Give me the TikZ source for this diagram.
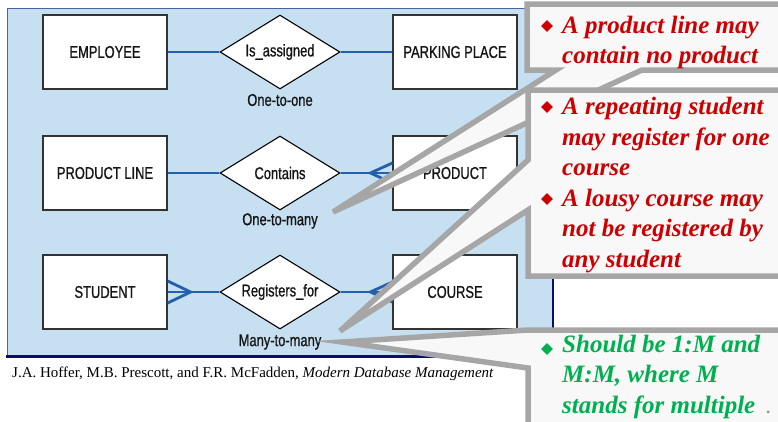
\documentclass[tikz,border=0pt]{standalone}
\usepackage{fontspec}
\setmainfont{Liberation Serif}
\newfontfamily\erfont[FakeStretch=0.76,FakeBold=0.8]{Liberation Sans}
\usetikzlibrary{shapes.geometric}

\definecolor{panelblue}{RGB}{198,224,242}
\definecolor{panelnavy}{RGB}{12,12,110}
\definecolor{paneledge}{RGB}{70,100,170}
\definecolor{relblue}{RGB}{35,95,170}
\definecolor{erink}{RGB}{20,20,20}
\definecolor{calloutgrey}{RGB}{166,166,166}
\definecolor{calloutfill}{RGB}{248,248,248}
\definecolor{notered}{RGB}{204,0,0}
\definecolor{notegreen}{RGB}{0,176,80}

\begin{document}
\begin{tikzpicture}[x=1pt,y=-1pt,
  erfonts/.style={font=\erfont\fontsize{17}{20}\selectfont, text=erink},
  entity/.style={erfonts, draw=black!80, fill=white, line width=1.3pt,
    minimum width=124pt, minimum height=74pt, inner sep=0pt},
  relation/.style={erfonts, diamond, aspect=1.62, draw=black, fill=white,
    line width=1.1pt, minimum width=120pt, minimum height=74pt, inner sep=0pt},
  cardinality/.style={erfonts, inner sep=0pt},
  rel/.style={draw=relblue, line width=2.8pt},
  callout/.style={draw=calloutgrey, fill=calloutfill, line width=5.5pt},
  noteline/.style={font=\bfseries\itshape\fontsize{25}{30.5}\selectfont,
    text=#1, anchor=base west, inner sep=0pt},
  bul/.style={diamond, fill=#1, inner sep=0pt, minimum width=12pt, minimum height=12pt},
  cite/.style={font=\fontsize{15}{17}\selectfont, anchor=base west, inner sep=0pt}
]
\useasboundingbox (0,0) rectangle (778,421);
\clip (0,0) rectangle (778,421);
\fill[white] (0,0) rectangle (778,421);

% light blue panel holding the three ER examples
\fill[panelblue] (7,8) rectangle (554,356);
\draw[paneledge, line width=0.9pt] (7,356) -- (7,8) -- (553,8);
\draw[panelnavy, line width=2.6pt] (553,8) -- (553,356);
\draw[panelnavy, line width=3pt] (5.5,356) -- (554.3,356);

% one-to-one
\node[entity]   (emp)  at (105,52)  {EMPLOYEE};
\node[relation] (asg)  at (280,52)  {Is\_assigned};
\node[entity]   (park) at (455,52)  {PARKING PLACE};
\node[cardinality] (c11) at (280,100) {One-to-one};
\draw[rel] (emp) -- (asg);
\draw[rel] (asg) -- (park);

% one-to-many
\node[entity]   (pline) at (105,173) {PRODUCT LINE};
\node[relation] (cont)  at (280,173) {Contains};
\node[entity]   (prod)  at (455,173) {PRODUCT};
\node[cardinality] (c1m) at (280,221) {One-to-many};
\draw[rel] (pline) -- (cont);
\draw[rel] (cont) -- (prod);
\draw[rel] ([yshift=10pt]prod.west) -- ++(-22,10) -- ([yshift=-10pt]prod.west);

% many-to-many
\node[entity]   (stud)   at (105,292) {STUDENT};
\node[relation] (reg)    at (280,292) {Registers\_for};
\node[entity]   (course) at (455,292) {COURSE};
\node[cardinality] (cmm) at (280,342) {Many-to-many};
\draw[rel] (stud) -- (reg);
\draw[rel] (reg) -- (course);
\draw[rel] ([yshift=10pt]course.west) -- ++(-22,10) -- ([yshift=-10pt]course.west);
\draw[rel] ([yshift=11pt]stud.east) -- ++(23,11) -- ([yshift=-11pt]stud.east);

% source line
\node[cite] (src) at (12,377) {J.A. Hoffer, M.B. Prescott, and F.R. McFadden, \textit{Modern Database Management}};

% callout pointers end near the cardinality labels
\coordinate (tipA) at (333,212);
\coordinate (tipB) at (340,331);
\coordinate (tipC) at (342,342);

% callout 1
\filldraw[callout] (527,4) -- (800,4) -- (800,70) -- (642,70) -- (tipA) -- (556,70) -- (527,70) -- cycle;
\node[bul=notered] (b1) at (547,26) {};
\node[noteline=notered] (t1a) at (562,33) {A product line may};
\node[noteline=notered] (t1b) at (562,63.5) {contain no product};

% callout 2
\filldraw[callout] (528,90) -- (800,90) -- (800,276) -- (528,276) -- (528,210) -- (tipB) -- (528,160) -- cycle;
\node[bul=notered] (b2) at (547,107) {};
\node[noteline=notered] (t2a) at (562,114.5) {A repeating student};
\node[noteline=notered] (t2b) at (562,145) {may register for one};
\node[noteline=notered] (t2c) at (562,175.5) {course};
\node[bul=notered] (b3) at (547,199) {};
\node[noteline=notered] (t3a) at (562,206) {A lousy course may};
\node[noteline=notered] (t3b) at (562,236.5) {not be registered by};
\node[noteline=notered] (t3c) at (562,267) {any student};

% callout 3
\filldraw[callout] (528,330) -- (800,330) -- (800,440) -- (528,440) -- (528,368) -- (tipC) -- cycle;
\node[bul=notegreen] (b4) at (547,349) {};
\node[noteline=notegreen] (t4a) at (562,352) {Should be 1:M and};
\node[noteline=notegreen] (t4b) at (562,382.5) {M:M, where M};
\node[noteline=notegreen] (t4c) at (562,413) {stands for multiple};
\node[font=\bfseries\fontsize{17}{18}\selectfont, text=black!40, anchor=base west, inner sep=0pt] (dot) at (766,413) {.};
\end{tikzpicture}
\end{document}
